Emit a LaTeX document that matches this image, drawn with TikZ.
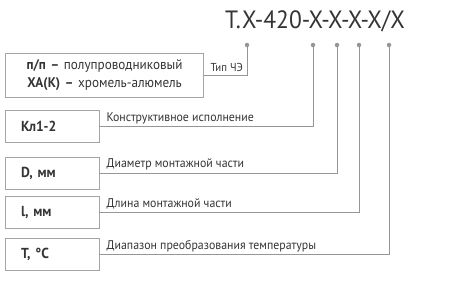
\documentclass[tikz,border=0pt]{standalone}
\usepackage{fontspec}
\setmainfont{PT Sans}[FakeStretch=0.94]
\usetikzlibrary{positioning}
\definecolor{inkgray}{RGB}{52, 52, 52}
\definecolor{wiregray}{RGB}{150, 150, 150}
\definecolor{framegray}{RGB}{165, 165, 165}

\begin{document}
\begin{tikzpicture}[x=1pt, y=-1pt,
  codebox/.style={draw=framegray, line width=0.9pt, minimum height=32pt,
    text width=62pt, inner xsep=16pt, align=left, text=inkgray,
    font=\fontsize{14.5}{16}\selectfont\bfseries},
  desc/.style={font=\fontsize{12.6}{14}\selectfont, text=inkgray, inner sep=0pt},
  wire/.style={wiregray, line width=0.8pt},
  pin/.style={circle, fill=wiregray, inner sep=0pt, minimum size=4.5pt}]

  % ── Layout ──────────────────────────────────────────────────────────
  \def\yP{45}     % pin row
  \def\xB{52}     % code box centre (x)

  \useasboundingbox (0,0) rectangle (450,290);

  % ── Designation ─────────────────────────────────────────────────────
  \node[font=\fontsize{25}{28}\selectfont, text=inkgray, inner sep=0pt]
    (code) at (315,21) {Т.Х-420-Х-Х-Х-Х/Х};

  % ── Pins under the positions ────────────────────────────────────────
  \node[pin] (pA) at (247,\yP) {};
  \node[pin] (pB) at (313,\yP) {};
  \node[pin] (pC) at (337,\yP) {};
  \node[pin] (pD) at (359,\yP) {};
  \node[pin] (pE) at (389,\yP) {};

  % ── Code boxes ──────────────────────────────────────────────────────
  \node[codebox, minimum height=44pt, text width=180pt, inner xsep=9pt,
    align=center, font=\fontsize{14}{18}\selectfont] (bA) at (104.5,75)
    {\textbf{п/п –} полупроводниковый\\\textbf{ХА(К) –} хромель-алюмель};
  \node[codebox] (bB) at (\xB,126.5) {Кл1-2};
  \node[codebox] (bC) at (\xB,173) {D, мм};
  \node[codebox] (bD) at (\xB,212) {l, мм};
  \node[codebox] (bE) at (\xB,254.5) {T, °C};

  % ── Connectors ──────────────────────────────────────────────────────
  \foreach \p/\b in {pA/bA, pB/bB, pC/bC, pD/bD, pE/bE} {
    \draw[wire] (\p) |- (\b.east);
  }

  % ── Descriptions ────────────────────────────────────────────────────
  \node[desc, font=\fontsize{11.5}{12}\selectfont, anchor=south east] (tA)
    at ([xshift=-4pt, yshift=3pt]pA |- bA.east) {Тип ЧЭ};
  \node[desc, anchor=south west] (tB) at ([xshift=7pt, yshift=2.5pt]bB.east)
    {Конструктивное исполнение};
  \node[desc, anchor=south west] (tC) at ([xshift=7pt, yshift=2.5pt]bC.east)
    {Диаметр монтажной части};
  \node[desc, anchor=south west] (tD) at ([xshift=7pt, yshift=2.5pt]bD.east)
    {Длина монтажной части};
  \node[desc, anchor=south west] (tE) at ([xshift=7pt, yshift=2.5pt]bE.east)
    {Диапазон преобразования температуры};

\end{tikzpicture}
\end{document}
